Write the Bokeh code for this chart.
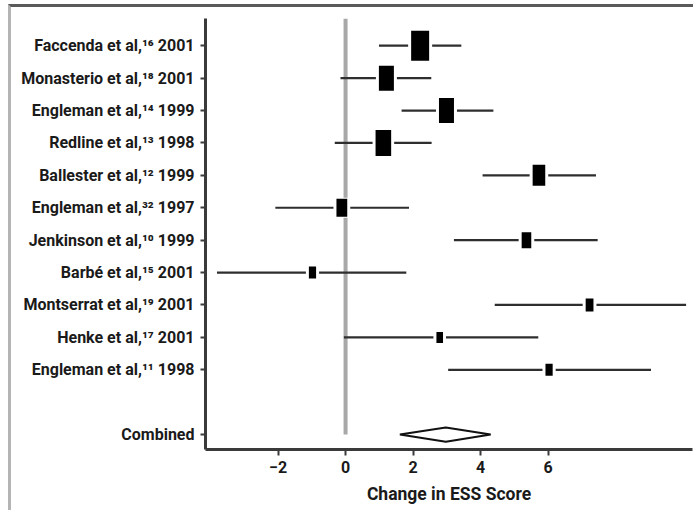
from bokeh.plotting import figure
from bokeh.models import Range1d, FixedTicker, ColumnDataSource
from bokeh.embed import file_html
from bokeh.resources import INLINE

# ---- data ----
studies = [
    "Faccenda et al,¹⁶ 2001",
    "Monasterio et al,¹⁸ 2001",
    "Engleman et al,¹⁴ 1999",
    "Redline et al,¹³ 1998",
    "Ballester et al,¹² 1999",
    "Engleman et al,³² 1997",
    "Jenkinson et al,¹⁰ 1999",
    "Barbé et al,¹⁵ 2001",
    "Montserrat et al,¹⁹ 2001",
    "Henke et al,¹⁷ 2001",
    "Engleman et al,¹¹ 1998",
]
est = [2.21, 1.21, 2.99, 1.12, 5.73, -0.11, 5.36, -0.98, 7.23, 2.79, 6.03]
lo = [0.99, -0.15, 1.66, -0.32, 4.06, -2.08, 3.21, -3.81, 4.42, -0.05, 3.04]
hi = [3.43, 2.54, 4.38, 2.55, 7.42, 1.88, 7.47, 1.80, 10.09, 5.71, 9.05]
weights = [30, 25, 25, 26, 21, 18, 16, 12, 13, 11, 12]

combined_label = "Combined"
combined_est = 2.97
combined_lo = 1.61
combined_hi = 4.30

x_ticks = [-2, 0, 2, 4, 6]
x_tick_labels = ["−2", "0", "2", "4", "6"]
x_title = "Change in ESS Score"

# ---- layout helpers ----
n = len(studies)
combined_y = 1
ypos = [combined_y + 2 + (n - 1 - i) for i in range(n)]  # one empty row above "Combined"
y_top = ypos[0] + 0.84
y_bot = combined_y - 0.46

FONT = "Roboto"
TXT = "#1a1a1a"
AX = "#3a3a3a"

p = figure(
    width=685, height=506,
    x_range=Range1d(-4.15, 10.28), y_range=Range1d(y_bot, y_top),
    output_backend="svg", toolbar_location=None,
    min_border_left=194, min_border_right=4, min_border_top=11, min_border_bottom=64,
)
p.styles = {
    "margin-top": "4px",
    "margin-left": "8px",
    "border-top": "3px solid #5a5a5a",
    "border-left": "3px solid #b4b4b4",
}
p.outline_line_color = None
p.xgrid.visible = False
p.ygrid.visible = False
p.background_fill_color = "white"
p.border_fill_color = "white"

# zero reference line
p.segment(x0=[0], y0=[combined_y], x1=[0], y1=[y_top], line_color="#a8a8a8", line_width=4)

src = ColumnDataSource(dict(
    y=ypos, est=est, lo=lo, hi=hi,
    bh=weights, bw=[w * 0.6 for w in weights],
    hh=[w + 2 for w in weights], hw=[w * 0.6 + 6 for w in weights],
))
p.segment(x0="lo", y0="y", x1="hi", y1="y", source=src, line_color="#2e2e2e", line_width=2.2)
p.rect(x="est", y="y", width="hw", height="hh", width_units="screen", height_units="screen",
       source=src, fill_color="white", line_color=None)
p.rect(x="est", y="y", width="bw", height="bh", width_units="screen", height_units="screen",
       source=src, fill_color="black", line_color=None)

# combined diamond
dh = 0.22
p.patch(x=[combined_lo, combined_est, combined_hi, combined_est],
        y=[combined_y, combined_y + dh, combined_y, combined_y - dh],
        fill_color="white", line_color="#111111", line_width=2)

# axes
xa = p.xaxis[0]
xa.ticker = FixedTicker(ticks=x_ticks)
xa.major_label_overrides = {t: s for t, s in zip(x_ticks, x_tick_labels)}
xa.axis_label = x_title
ya = p.yaxis[0]
ya.ticker = FixedTicker(ticks=ypos + [combined_y])
ya.major_label_overrides = dict(zip(ypos + [combined_y], studies + [combined_label]))

for ax in (xa, ya):
    ax.axis_line_color = AX
    ax.axis_line_width = 3
    ax.major_tick_line_color = AX
    ax.major_tick_line_width = 2
    ax.major_tick_in = 0
    ax.minor_tick_line_color = None
    ax.major_label_text_font = FONT
    ax.major_label_text_font_style = "bold"
    ax.major_label_text_color = TXT
ya.major_label_text_font_size = "16px"
xa.major_label_text_font_size = "16px"
xa.major_tick_out = 6
xa.major_label_standoff = 5
xa.axis_label_text_font = FONT
xa.axis_label_text_font_size = "17.5px"
xa.axis_label_text_font_style = "bold"
xa.axis_label_text_color = TXT
xa.axis_label_standoff = 8
ya.major_tick_out = 5
ya.major_label_standoff = 6

open("out.html", "w").write(file_html(p, INLINE))
